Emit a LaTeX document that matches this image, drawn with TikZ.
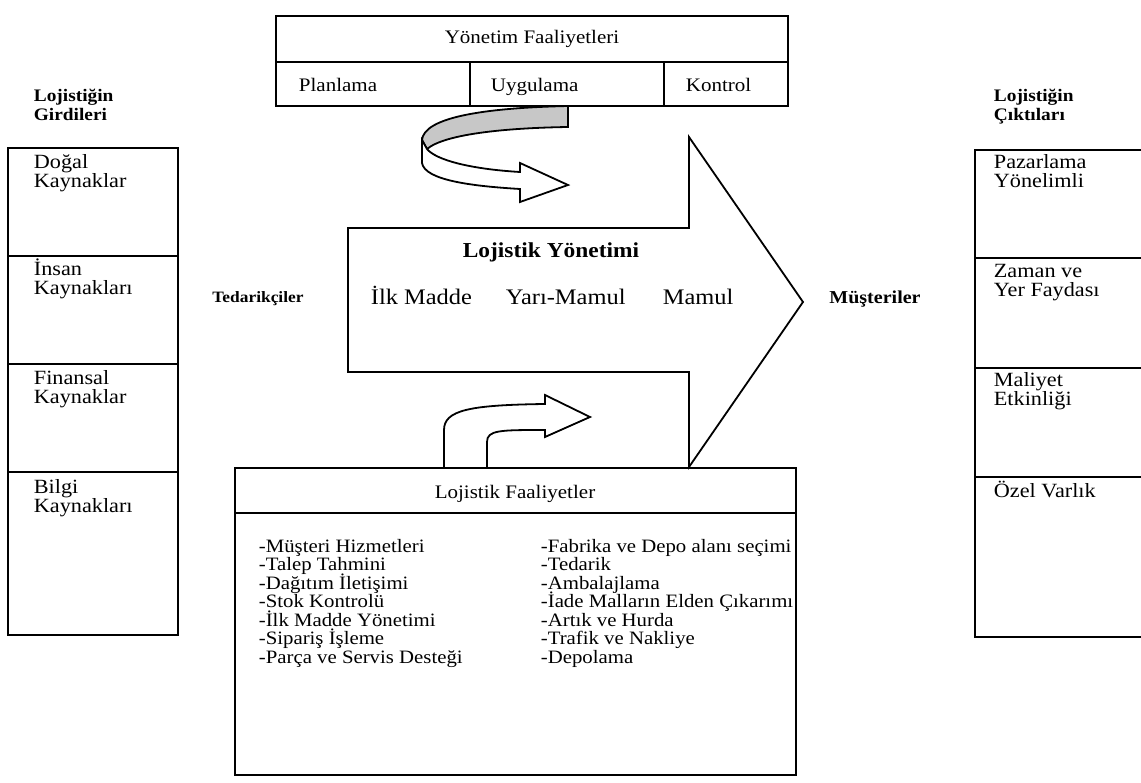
\documentclass[tikz,border=0pt]{standalone}
\usepackage{fontspec}
% a slightly widened serif face for every label
\setmainfont{Liberation Serif}[FakeStretch=1.1]
% fixed line spacing inside multi-line labels
\newcommand{\fixedlines}{\lineskiplimit=-100pt\lineskip=0pt}
\begin{document}
\begin{tikzpicture}[x=1pt,y=-1pt, line width=1.8pt, line join=miter,
  % multi-line labels are placed by the baseline of their last line
  lbl/.style={inner sep=0pt, font=\fontsize{20.2}{19}\selectfont\fixedlines, align=left, anchor=base west},
  listlbl/.style={inner sep=0pt, font=\fontsize{18.9}{18.5}\selectfont\fixedlines, align=left, anchor=base west},
  toplbl/.style={inner sep=0pt, font=\fontsize{19.1}{19}\selectfont, anchor=base west},
  arrlbl/.style={inner sep=0pt, font=\fontsize{22.2}{22}\selectfont, anchor=base west},
  head/.style={inner sep=0pt, font=\fontsize{17.6}{19}\selectfont\bfseries\fixedlines, align=left, anchor=base west},
  ribbon/.style={draw=black, fill=white},
  shade/.style={draw=black, fill=black!22}]
\useasboundingbox (0,0) rectangle (1141,783);

% management activities box
\draw (276,16) rectangle (788,106);
\draw (276,62) -- (788,62);
\draw (470,62) -- (470,106);
\draw (664,62) -- (664,106);
\node[toplbl, anchor=base] (yf) at (532,44) {Yönetim Faaliyetleri};
\node[toplbl] (plan) at (298,92) {Planlama};
\node[toplbl] (uyg) at (490,92) {Uygulama};
\node[toplbl] (kont) at (685,92) {Kontrol};

% curved ribbon arrow from the management box
\path[shade] (568,106) .. controls (480,108) and (424,118) .. (422,140)
  -- (427,149) .. controls (445,134) and (505,128) .. (568,127) -- cycle;
\path[ribbon] (422,140) -- (422,163) .. controls (425,180) and (470,186) .. (520,189)
  -- (520,202) -- (568,185) -- (520,163) -- (520,172)
  .. controls (470,169) and (436,160) .. (427,149) -- cycle;

% main logistics management arrow
\draw (348,228) -- (689,228) -- (689,137) -- (803,302) -- (689,467)
  -- (689,372) -- (348,372) -- cycle;
\node[inner sep=0pt, font=\fontsize{21.3}{22}\selectfont\bfseries, anchor=base] (ly) at (551,258) {Lojistik Yönetimi};
\node[arrlbl] (ilk) at (370,305) {İlk Madde};
\node[arrlbl] (yari) at (505,305) {Yarı-Mamul};
\node[arrlbl] (mam) at (662,305) {Mamul};
\node[inner sep=0pt, font=\fontsize{15.8}{16}\selectfont\bfseries, anchor=base] (ted) at (258,303) {Tedarikçiler};
\node[inner sep=0pt, font=\fontsize{18.2}{18}\selectfont\bfseries, anchor=base] (mus) at (875,304) {Müşteriler};

% bent arrow from the logistics activities box
\draw[fill=white] (444,468) -- (444,430) .. controls (444,410) and (470,405) .. (545,404)
  -- (545,395) -- (590,417) -- (545,437) -- (545,430)
  .. controls (500,430) and (487,430) .. (487,442) -- (487,468);

% logistics activities box
\draw (235,468) rectangle (796,775);
\draw (235,513) -- (796,513);
\node[toplbl, anchor=base] (lf) at (515,498) {Lojistik Faaliyetler};
\node[listlbl] (lf1) at (258,663) {-Müşteri Hizmetleri\\-Talep Tahmini\\-Dağıtım İletişimi\\-Stok Kontrolü\\-İlk Madde Yönetimi\\-Sipariş İşleme\\-Parça ve Servis Desteği};
\node[listlbl] (lf2) at (540,663) {-Fabrika ve Depo alanı seçimi\\-Tedarik\\-Ambalajlama\\-İade Malların Elden Çıkarımı\\-Artık ve Hurda\\-Trafik ve Nakliye\\-Depolama};

% inputs column
\node[head] (gir) at (33,121) {Lojistiğin\\Girdileri};
\draw (8,148) rectangle (178,635);
\draw (8,256) -- (178,256);
\draw (8,364) -- (178,364);
\draw (8,472) -- (178,472);
\node[lbl] (in1) at (33,188) {Doğal\\Kaynaklar};
\node[lbl] (in2) at (33,295) {İnsan\\Kaynakları};
\node[lbl] (in3) at (33,404) {Finansal\\Kaynaklar};
\node[lbl] (in4) at (33,512) {Bilgi\\Kaynakları};

% outputs column
\node[head] (cik) at (993,121) {Lojistiğin\\Çıktıları};
\draw (1145,150) -- (975,150) -- (975,637) -- (1145,637);
\draw (975,258) -- (1145,258);
\draw (975,368) -- (1145,368);
\draw (975,477) -- (1145,477);
\node[lbl] (out1) at (993,188) {Pazarlama\\Yönelimli};
\node[lbl] (out2) at (993,297) {Zaman ve\\Yer Faydası};
\node[lbl] (out3) at (993,406) {Maliyet\\Etkinliği};
\node[lbl] (out4) at (993,497) {Özel Varlık};
\end{tikzpicture}
\end{document}
